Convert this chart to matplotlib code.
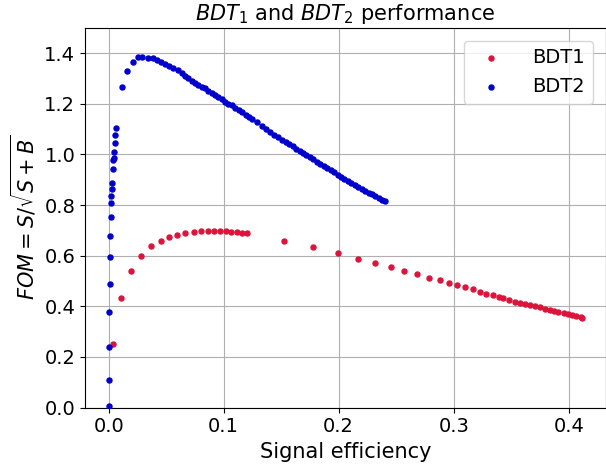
import matplotlib
matplotlib.use("Agg")
import matplotlib.pyplot as plt

# BDT1 curve: signal efficiency vs FOM
bdt1_eff = [0.0037, 0.0111, 0.0193, 0.0283, 0.0364, 0.0454, 0.0526, 0.0596, 0.0668, 0.0738,
            0.0799, 0.0860, 0.0912, 0.0970, 0.1020, 0.1065, 0.1115, 0.1163, 0.1204, 0.1526,
            0.1780, 0.1990, 0.2167, 0.2317, 0.2459, 0.2570, 0.2680, 0.2784, 0.2877, 0.2955,
            0.3028, 0.3100, 0.3167, 0.3230, 0.3283, 0.3340, 0.3390, 0.3433, 0.3485, 0.3535,
            0.3578, 0.3622, 0.3665, 0.3709, 0.3752, 0.3796, 0.3833, 0.3868, 0.3910, 0.3955,
            0.3990, 0.4028, 0.4065, 0.4106, 0.4115]
bdt1_fom = [0.250, 0.434, 0.541, 0.600, 0.638, 0.659, 0.674, 0.683, 0.688, 0.694,
            0.698, 0.698, 0.698, 0.698, 0.698, 0.694, 0.694, 0.688, 0.688, 0.660,
            0.633, 0.609, 0.586, 0.572, 0.554, 0.540, 0.526, 0.512, 0.503, 0.493,
            0.484, 0.477, 0.467, 0.457, 0.449, 0.443, 0.438, 0.433, 0.425, 0.418,
            0.414, 0.410, 0.406, 0.401, 0.396, 0.391, 0.385, 0.383, 0.379, 0.375,
            0.370, 0.366, 0.361, 0.357, 0.355]

# BDT2 curve
bdt2_eff = [0.0001, 0.0001, 0.0000, 0.0000, 0.0010, 0.0010, 0.0012, 0.0022, 0.0022, 0.0024,
            0.0028, 0.0028, 0.0036, 0.0042, 0.0048, 0.0050, 0.0057, 0.0058, 0.0068, 0.0115,
            0.0158, 0.0210, 0.0254, 0.0294, 0.0346, 0.0384, 0.0419, 0.0454, 0.0491, 0.0526,
            0.0563, 0.0601, 0.0636, 0.0665, 0.0694, 0.0723, 0.0752, 0.0781, 0.0810, 0.0839,
            0.0868, 0.0897, 0.0926, 0.0955, 0.0984, 0.1013, 0.1040, 0.1070, 0.1100, 0.1130,
            0.1160, 0.1190, 0.1220, 0.1250, 0.1290, 0.1330, 0.1370, 0.1405, 0.1440, 0.1475,
            0.1510, 0.1540, 0.1570, 0.1600, 0.1630, 0.1660, 0.1690, 0.1720, 0.1750, 0.1780,
            0.1810, 0.1840, 0.1870, 0.1900, 0.1930, 0.1960, 0.1990, 0.2020, 0.2050, 0.2080,
            0.2110, 0.2140, 0.2170, 0.2200, 0.2230, 0.2260, 0.2290, 0.2320, 0.2350, 0.2375,
            0.2400]
bdt2_fom = [0.006, 0.107, 0.240, 0.379, 0.489, 0.595, 0.678, 0.752, 0.808, 0.836,
            0.862, 0.889, 0.941, 0.978, 0.987, 1.010, 1.047, 1.078, 1.103, 1.268,
            1.330, 1.367, 1.384, 1.384, 1.380, 1.380, 1.374, 1.367, 1.358, 1.351,
            1.341, 1.334, 1.321, 1.310, 1.301, 1.292, 1.284, 1.275, 1.268, 1.262,
            1.251, 1.242, 1.235, 1.226, 1.218, 1.209, 1.200, 1.194, 1.185, 1.176,
            1.167, 1.158, 1.149, 1.140, 1.127, 1.114, 1.101, 1.090, 1.079, 1.068,
            1.058, 1.049, 1.041, 1.032, 1.023, 1.014, 1.005, 0.997, 0.989, 0.981,
            0.972, 0.964, 0.956, 0.947, 0.938, 0.929, 0.920, 0.912, 0.904, 0.896,
            0.888, 0.880, 0.872, 0.865, 0.857, 0.849, 0.842, 0.834, 0.827, 0.821,
            0.815]

labels = ["BDT1", "BDT2"]
title = "$BDT_1$ and $BDT_2$ performance"
xlabel = "Signal efficiency"
ylabel = r"$FOM=S/\sqrt{S+B}$"

fig = plt.figure(figsize=(6.06, 4.65), dpi=100)
ax = fig.add_axes([85 / 606, 1 - 407.5 / 465, 520.6 / 606, 379.5 / 465])

ax.scatter(bdt1_eff, bdt1_fom, s=13, color="crimson", label=labels[0], zorder=3)
ax.scatter(bdt2_eff, bdt2_fom, s=13, color="mediumblue", label=labels[1], zorder=3)

ax.set_ylim(0, 1.5)
ax.set_yticks([0.0, 0.2, 0.4, 0.6, 0.8, 1.0, 1.2, 1.4])
ax.grid(True)
ax.set_axisbelow(True)
ax.tick_params(labelsize=14)
ax.set_xlabel(xlabel, fontsize=15)
ax.set_ylabel(ylabel, fontsize=15)
ax.set_title(title, fontsize=15)
ax.legend(loc="upper right", fontsize=14, handletextpad=1.15, borderaxespad=0.65)

fig.savefig("out.png", dpi=100)
